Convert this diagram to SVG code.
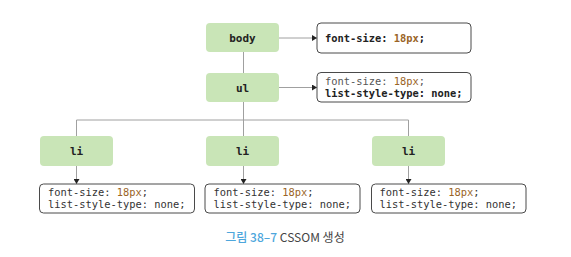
<svg xmlns="http://www.w3.org/2000/svg" width="571" height="257" viewBox="0 0 571 257">
  <style>
    .node { fill: #c9e5b7; }
    .css { fill: #ffffff; stroke: #4a4a4a; stroke-width: 1; }
    .lbl { font-family: "DejaVu Sans Mono", "Liberation Mono", monospace; font-size: 11px; font-weight: bold; fill: #222; text-anchor: middle; }
    .code { font-family: "DejaVu Sans Mono", "Liberation Mono", monospace; font-size: 10.4px; fill: #333; }
    .b { font-weight: bold; fill: #222; }
    .num { fill: #9a6426; }
    .light { fill: #555; }
    .conn { stroke: #a0a0a0; stroke-width: 1; fill: none; }
    .cap { font-family: "Noto Sans CJK KR", "Noto Sans", sans-serif; font-size: 12px; }
  </style>
  <defs>
    <marker id="arr" markerWidth="6" markerHeight="6" refX="5" refY="3" orient="auto" markerUnits="userSpaceOnUse">
      <path d="M0,0 L5,3 L0,6 Z" fill="#222"/>
    </marker>
  </defs>

  <g id="connectors">
    <line class="conn" x1="243.5" y1="52" x2="243.5" y2="73"/>
    <line class="conn" x1="243.5" y1="102" x2="243.5" y2="120"/>
    <polyline class="conn" points="76.5,136 76.5,120 408.5,120 408.5,136"/>
    <line class="conn" x1="243.5" y1="120" x2="243.5" y2="136"/>
    <line class="conn" x1="279" y1="38" x2="317" y2="38" marker-end="url(#arr)"/>
    <line class="conn" x1="279" y1="87.5" x2="317" y2="87.5" marker-end="url(#arr)"/>
    <line class="conn" x1="76.5" y1="166" x2="76.5" y2="184" marker-end="url(#arr)"/>
    <line class="conn" x1="243.5" y1="166" x2="243.5" y2="184" marker-end="url(#arr)"/>
    <line class="conn" x1="408.5" y1="166" x2="408.5" y2="184" marker-end="url(#arr)"/>
  </g>

  <g id="body">
    <rect class="node" x="206" y="23" width="73" height="29" rx="4"/>
    <text class="lbl" x="242.5" y="41.5">body</text>
  </g>
  <g id="body-css">
    <rect class="css" x="317" y="23" width="154" height="30" rx="4"/>
    <text class="code b" x="325" y="41.5">font-size: <tspan class="num">18px</tspan>;</text>
  </g>

  <g id="ul">
    <rect class="node" x="206" y="73" width="73" height="29" rx="4"/>
    <text class="lbl" x="242.5" y="91.5">ul</text>
  </g>
  <g id="ul-css">
    <rect class="css" x="317" y="72.5" width="154" height="29.5" rx="4"/>
    <text class="code light" x="325" y="84.5">font-size: <tspan class="num">18px</tspan>;</text>
    <text class="code b" x="325" y="97">list-style-type: none;</text>
  </g>

  <g id="li1">
    <rect class="node" x="40" y="136" width="73" height="30" rx="4"/>
    <text class="lbl" x="76.5" y="154.5">li</text>
  </g>
  <g id="li1-css">
    <rect class="css" x="39.5" y="184" width="155" height="29" rx="4"/>
    <text class="code" x="48" y="195.5">font-size: <tspan class="num">18px</tspan>;</text>
    <text class="code" x="48" y="207.5">list-style-type: none;</text>
  </g>

  <g id="li2">
    <rect class="node" x="206" y="136" width="73" height="30" rx="4"/>
    <text class="lbl" x="242.5" y="154.5">li</text>
  </g>
  <g id="li2-css">
    <rect class="css" x="205" y="184" width="155" height="29" rx="4"/>
    <text class="code" x="213.5" y="195.5">font-size: <tspan class="num">18px</tspan>;</text>
    <text class="code" x="213.5" y="207.5">list-style-type: none;</text>
  </g>

  <g id="li3">
    <rect class="node" x="372" y="136" width="73" height="30" rx="4"/>
    <text class="lbl" x="408.5" y="154.5">li</text>
  </g>
  <g id="li3-css">
    <rect class="css" x="371.5" y="184" width="154.5" height="29" rx="4"/>
    <text class="code" x="379.5" y="195.5">font-size: <tspan class="num">18px</tspan>;</text>
    <text class="code" x="379.5" y="207.5">list-style-type: none;</text>
  </g>

  <text class="cap" x="285" y="241.5" text-anchor="middle"><tspan fill="#4da6dc" font-weight="500">그림 38–7</tspan><tspan fill="#444"> CSSOM 생성</tspan></text>
</svg>
